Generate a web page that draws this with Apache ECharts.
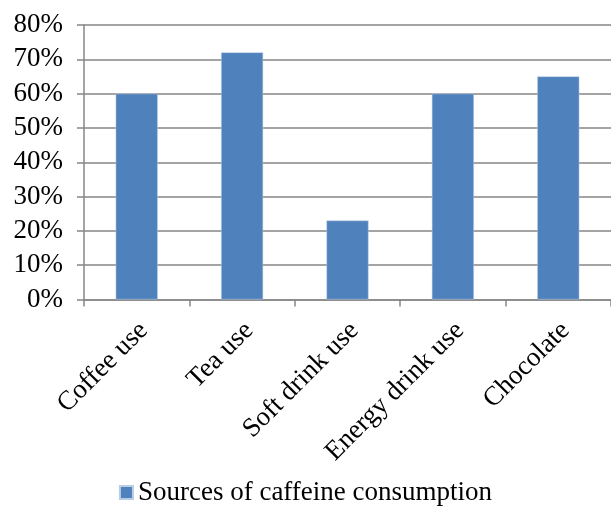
<!DOCTYPE html>
<html>
<head>
<meta charset="utf-8">
<script src="https://cdn.jsdelivr.net/npm/echarts@6/dist/echarts.min.js"></script>
<style>
  html, body { margin: 0; padding: 0; background: #fff; }
  #chart { width: 611px; height: 506px; }
</style>
</head>
<body>
<div id="chart"></div>
<script>
// Sources of caffeine consumption (share of respondents, %)
const categories = ['Coffee use', 'Tea use', 'Soft drink use', 'Energy drink use', 'Chocolate'];
const values = [60, 72, 23, 60, 65];
const seriesName = 'Sources of caffeine consumption';

const font = 'Liberation Serif, Times New Roman, serif';
const gridColor = '#868686';

const chart = echarts.init(document.getElementById('chart'), null, { renderer: 'canvas' });
chart.setOption({
  animation: false,
  backgroundColor: '#ffffff',
  grid: { left: 84, right: -10, top: 25, bottom: 206.5, containLabel: false },
  legend: {
    data: [seriesName],
    top: 474,
    left: 'center',
    icon: 'rect',
    itemWidth: 13,
    itemHeight: 13,
    itemGap: 6,
    textStyle: { fontFamily: font, fontSize: 27, color: '#000' }
  },
  xAxis: {
    type: 'category',
    data: categories,
    axisLine: { lineStyle: { color: gridColor, width: 1.5 } },
    axisTick: { show: true, length: 7, lineStyle: { color: gridColor, width: 1.5 } },
    axisLabel: {
      rotate: 45,
      margin: 34,
      interval: 0,
      padding: [0, -10, 0, 0],
      fontFamily: font,
      fontSize: 27,
      color: '#000'
    }
  },
  yAxis: {
    type: 'value',
    min: 0,
    max: 80,
    interval: 10,
    axisLine: { show: true, lineStyle: { color: gridColor, width: 1.5 } },
    axisTick: { show: true, length: 7, lineStyle: { color: gridColor, width: 1.5 } },
    axisLabel: {
      formatter: '{value}%',
      margin: 21,
      fontFamily: font,
      fontSize: 27,
      color: '#000'
    },
    splitLine: { show: true, lineStyle: { color: gridColor, width: 1.5 } }
  },
  series: [{
    name: seriesName,
    type: 'bar',
    data: values,
    barWidth: 42,
    itemStyle: { color: '#4F81BD', borderColor: '#b9cde5', borderWidth: 0.5 }
  }]
});
</script>
</body>
</html>
